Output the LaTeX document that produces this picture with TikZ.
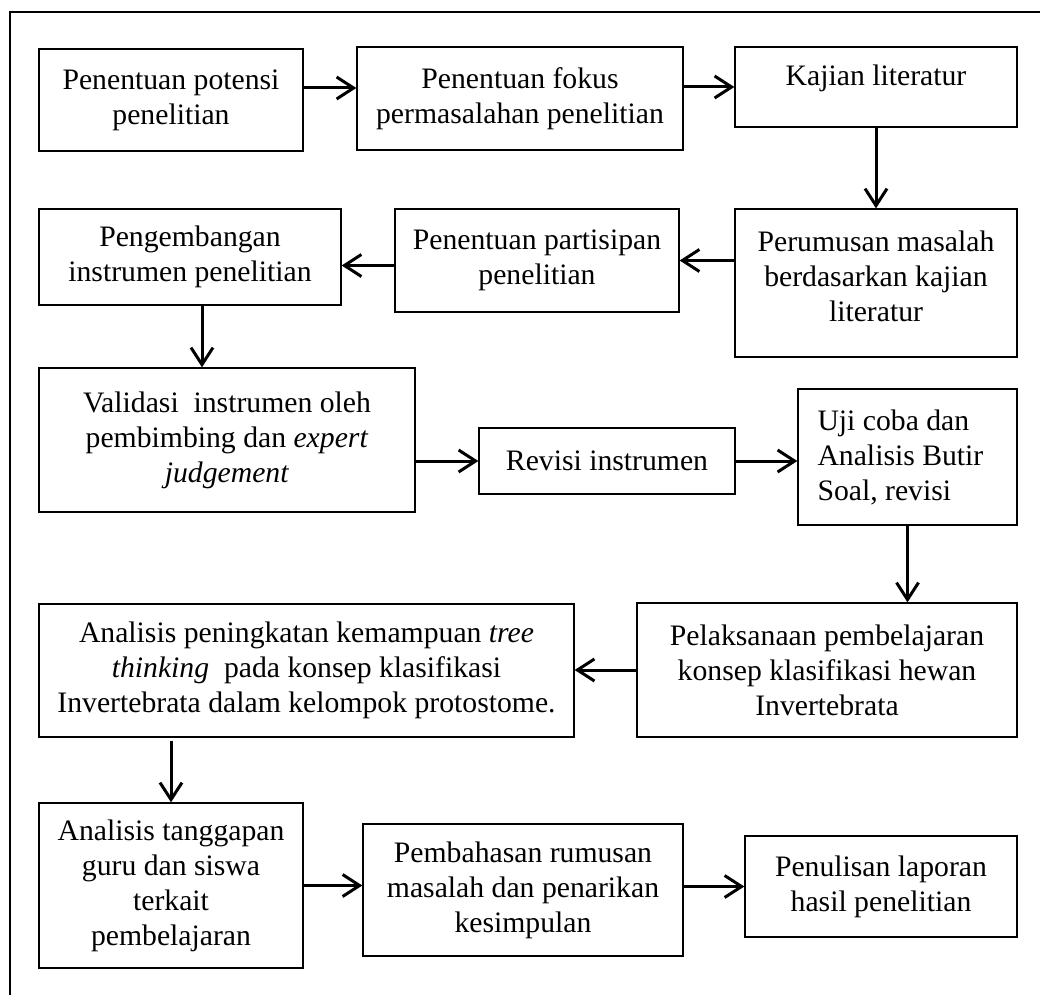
\documentclass[tikz,border=0pt]{standalone}
\usepackage{fontspec}
\setmainfont{Liberation Serif}
\usetikzlibrary{arrows.meta}

\begin{document}
\begin{tikzpicture}[
  x=1pt, y=-1pt,
  box/.style={rectangle, draw, line width=1.3pt, align=center, inner sep=0pt,
    font=\fontsize{29.7}{35}\selectfont},
  arr/.style={line width=3pt, -{Straight Barb[length=17pt,width=22pt,line width=3pt]}}
]
  \useasboundingbox (0,0) rectangle (1040,995);
  \draw[line width=2pt] (1040,12) -- (10,12) -- (10,995);

  % row 1
  \node[box, minimum width=264pt, minimum height=102pt] (potensi) at (171, 100)
    {Penentuan potensi\\penelitian};
  \node[box, minimum width=326pt, minimum height=103pt] (fokus) at (520, 98.5)
    {Penentuan fokus\\permasalahan penelitian};
  \node[box, minimum width=282pt, minimum height=80pt, text depth=24pt] (kajian) at (876, 87)
    {Kajian literatur};

  % row 2
  \node[box, minimum width=282pt, minimum height=148pt, text depth=14pt] (rumusan) at (876, 283)
    {Perumusan masalah\\berdasarkan kajian\\literatur};
  \node[box, minimum width=284pt, minimum height=103pt] (partisipan) at (537, 260.5)
    {Penentuan partisipan\\penelitian};
  \node[box, minimum width=302pt, minimum height=96pt] (pengembangan) at (190, 257)
    {Pengembangan\\instrumen penelitian};

  % row 3
  \node[box, minimum width=376pt, minimum height=144pt] (validasi) at (227, 440)
    {Validasi\ \ instrumen oleh\\pembimbing dan \textit{expert}\\\textit{judgement}};
  \node[box, minimum width=256pt, minimum height=66pt] (revisi) at (607, 461)
    {Revisi instrumen};
  \node[box, align=flush left, text width=180pt, minimum width=219pt, minimum height=136pt] (ujicoba) at (907.5, 457)
    {Uji coba dan\\Analisis Butir\\Soal, revisi};

  % row 4
  \node[box, minimum width=380pt, minimum height=134pt] (pelaksanaan) at (827, 670)
    {Pelaksanaan pembelajaran\\konsep klasifikasi hewan\\Invertebrata};
  \node[box, minimum width=535pt, minimum height=133pt] (peningkatan) at (306.5, 670.5)
    {Analisis peningkatan kemampuan \textit{tree}\\\textit{thinking}\ \ pada konsep klasifikasi\\Invertebrata dalam kelompok protostome.};

  % row 5
  \node[box, minimum width=264pt, minimum height=165pt] (tanggapan) at (171, 885.5)
    {Analisis tanggapan\\guru dan siswa\\terkait\\pembelajaran};
  \node[box, minimum width=320pt, minimum height=132pt] (pembahasan) at (523, 890)
    {Pembahasan rumusan\\masalah dan penarikan\\kesimpulan};
  \node[box, minimum width=272pt, minimum height=101pt] (penulisan) at (881, 886.5)
    {Penulisan laporan\\hasil penelitian};

  \draw[arr] ([yshift=12pt]potensi.east) -- ([yshift=12pt]potensi.east -| fokus.west);
  \draw[arr] (fokus.east |- kajian.west) -- (kajian.west);
  \draw[arr] (kajian.south) -- (rumusan.north);
  \draw[arr] (rumusan.west |- partisipan.east) -- (partisipan.east);
  \draw[arr] ([yshift=-5pt]partisipan.west) -- ([yshift=-5pt]partisipan.west -| pengembangan.east);
  \draw[arr] ([xshift=12pt]pengembangan.south) -- ([xshift=12pt]pengembangan.south |- validasi.north);
  \draw[arr] (validasi.east |- revisi.west) -- (revisi.west);
  \draw[arr] (revisi.east) -- (revisi.east -| ujicoba.west);
  \draw[arr] (ujicoba.south) -- (ujicoba.south |- pelaksanaan.north);
  \draw[arr] (pelaksanaan.west) -- (pelaksanaan.west -| peningkatan.east);
  \draw[arr] ([yshift=-3pt]peningkatan.south -| tanggapan.north) -- (tanggapan.north);
  \draw[arr] (tanggapan.east) -- (tanggapan.east -| pembahasan.west);
  \draw[arr] (pembahasan.east |- penulisan.west) -- (penulisan.west);
\end{tikzpicture}
\end{document}
